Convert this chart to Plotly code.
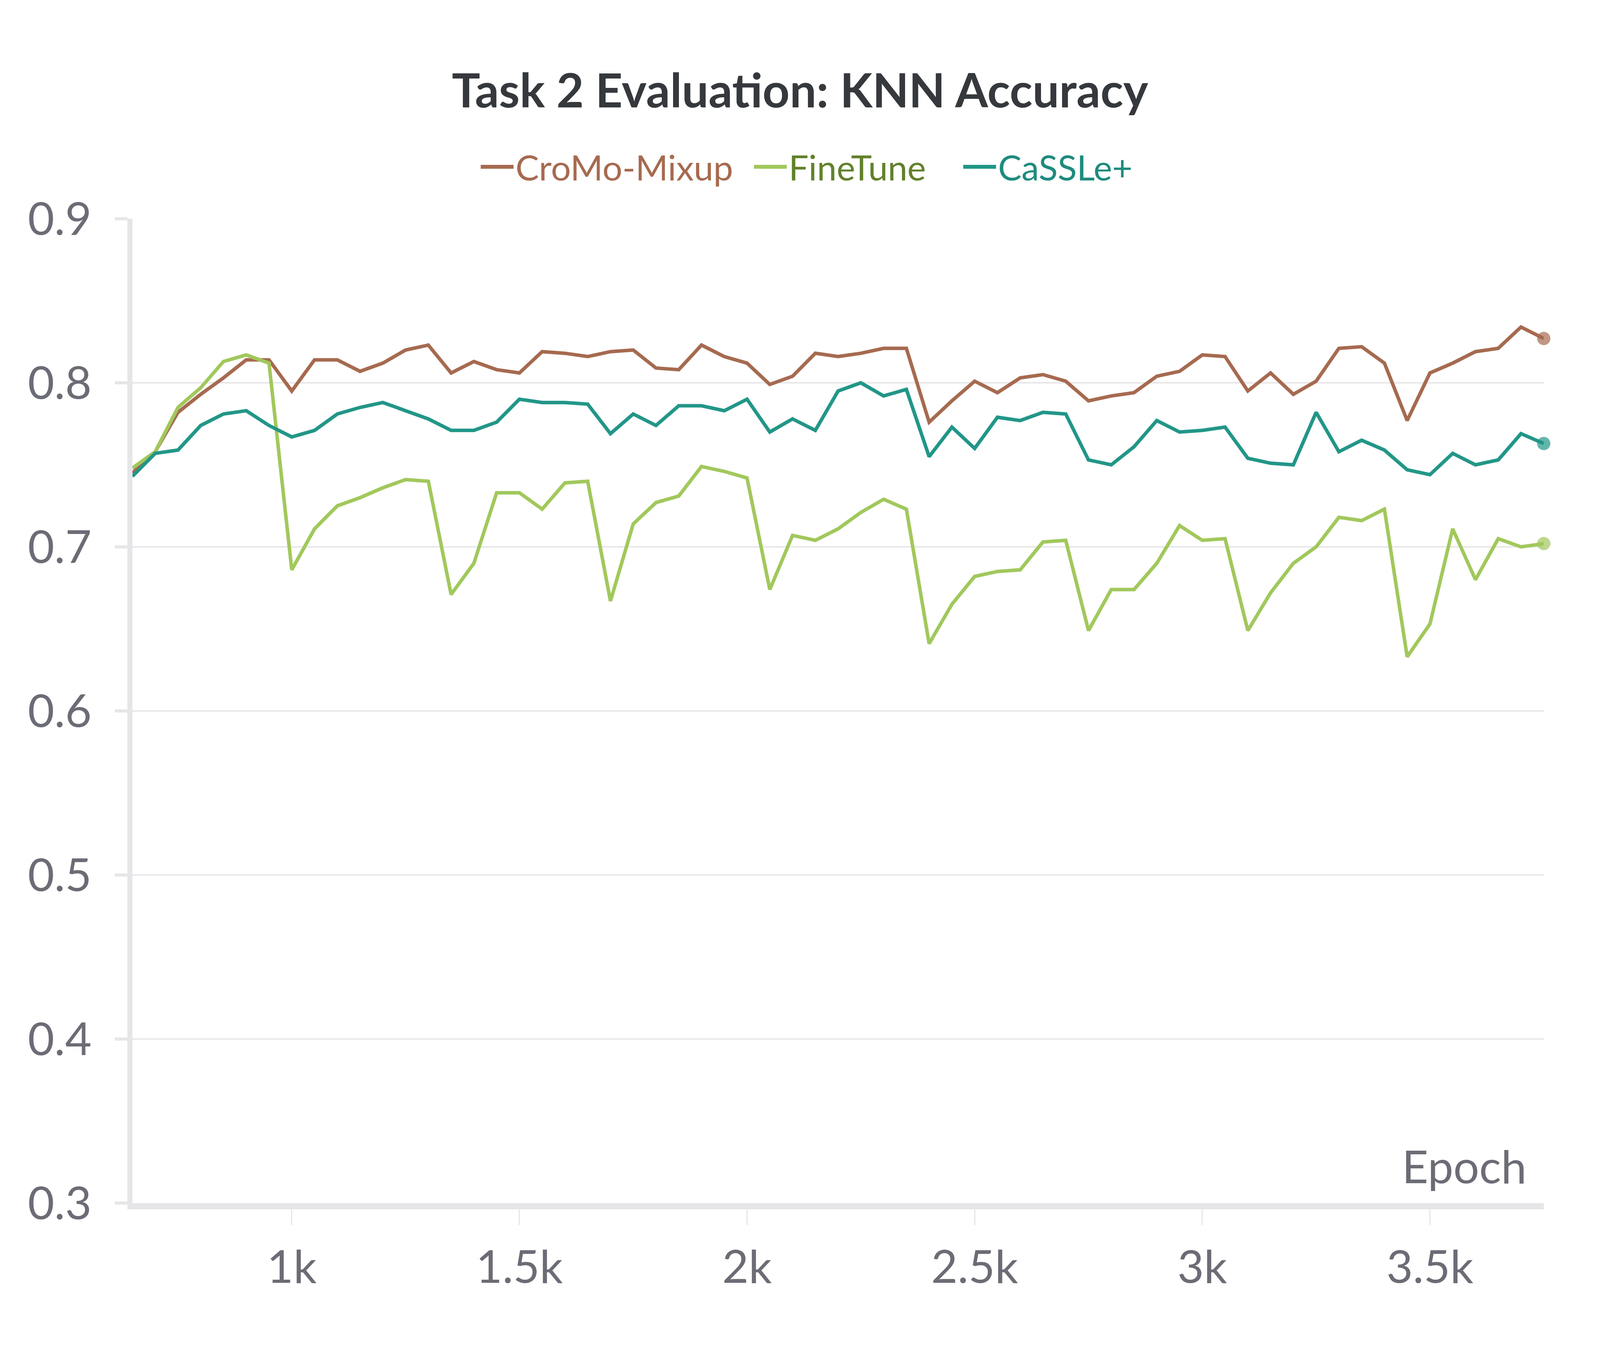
import plotly.graph_objects as go

epochs = [650, 700, 750, 800, 850, 900, 950, 1000, 1050, 1100, 1150, 1200, 1250, 1300,
          1350, 1400, 1450, 1500, 1550, 1600, 1650, 1700, 1750, 1800, 1850, 1900, 1950,
          2000, 2050, 2100, 2150, 2200, 2250, 2300, 2350, 2400, 2450, 2500, 2550, 2600,
          2650, 2700, 2750, 2800, 2850, 2900, 2950, 3000, 3050, 3100, 3150, 3200, 3250,
          3300, 3350, 3400, 3450, 3500, 3550, 3600, 3650, 3700, 3750]

cromo_mixup = [0.745, 0.758, 0.782, 0.793, 0.803, 0.814, 0.814, 0.795, 0.814, 0.814,
               0.807, 0.812, 0.820, 0.823, 0.806, 0.813, 0.808, 0.806, 0.819, 0.818,
               0.816, 0.819, 0.820, 0.809, 0.808, 0.823, 0.816, 0.812, 0.799, 0.804,
               0.818, 0.816, 0.818, 0.821, 0.821, 0.776, 0.789, 0.801, 0.794, 0.803,
               0.805, 0.801, 0.789, 0.792, 0.794, 0.804, 0.807, 0.817, 0.816, 0.795,
               0.806, 0.793, 0.801, 0.821, 0.822, 0.812, 0.777, 0.806, 0.812, 0.819,
               0.821, 0.834, 0.827]

finetune = [0.748, 0.758, 0.785, 0.797, 0.813, 0.817, 0.812, 0.686, 0.711, 0.725,
            0.730, 0.736, 0.741, 0.740, 0.671, 0.690, 0.733, 0.733, 0.723, 0.739,
            0.740, 0.667, 0.714, 0.727, 0.731, 0.749, 0.746, 0.742, 0.674, 0.707,
            0.704, 0.711, 0.721, 0.729, 0.723, 0.641, 0.665, 0.682, 0.685, 0.686,
            0.703, 0.704, 0.649, 0.674, 0.674, 0.690, 0.713, 0.704, 0.705, 0.649,
            0.672, 0.690, 0.700, 0.718, 0.716, 0.723, 0.633, 0.653, 0.711, 0.680,
            0.705, 0.700, 0.702]

cassle_plus = [0.743, 0.757, 0.759, 0.774, 0.781, 0.783, 0.774, 0.767, 0.771, 0.781,
               0.785, 0.788, 0.783, 0.778, 0.771, 0.771, 0.776, 0.790, 0.788, 0.788,
               0.787, 0.769, 0.781, 0.774, 0.786, 0.786, 0.783, 0.790, 0.770, 0.778,
               0.771, 0.795, 0.800, 0.792, 0.796, 0.755, 0.773, 0.760, 0.779, 0.777,
               0.782, 0.781, 0.753, 0.750, 0.761, 0.777, 0.770, 0.771, 0.773, 0.754,
               0.751, 0.750, 0.782, 0.758, 0.765, 0.759, 0.747, 0.744, 0.757, 0.750,
               0.753, 0.769, 0.763]

x_tick_vals = [1000, 1500, 2000, 2500, 3000, 3500]
x_tick_text = ["1k", "1.5k", "2k", "2.5k", "3k", "3.5k"]
y_tick_vals = [0.3, 0.4, 0.5, 0.6, 0.7, 0.8, 0.9]
y_tick_text = ["0.3", "0.4", "0.5", "0.6", "0.7", "0.8", "0.9"]

series_names = ["CroMo-Mixup", "FineTune", "CaSSLe+"]
series_values = [cromo_mixup, finetune, cassle_plus]
line_colors = ["#A66A50", "#A1C85C", "#229688"]
text_colors = ["#A66A50", "#62812B", "#1E8B7E"]

FONT = "Lato"
AXIS_COL = "#E6E6E9"
GRID_COL = "#E8E8EA"
TICK_COL = "#6B6C75"

FIG_W, FIG_H = 4080, 3440
M_L, M_R, M_T, M_B = 331, 136, 552, 368

fig = go.Figure()
legend_names = ["legend", "legend2", "legend3"]
for name, vals, col, txtcol, lg in zip(series_names, series_values, line_colors,
                                        text_colors, legend_names):
    n = len(vals)
    fig.add_trace(go.Scatter(
        x=epochs, y=vals, mode="lines+markers", name=name, showlegend=False,
        line=dict(color=col, width=9),
        marker=dict(size=[0] * (n - 1) + [34], color=col, line=dict(width=0)),
        cliponaxis=False, hoverinfo="x+y+name",
    ))
    # legend swatch entry (no data of its own)
    fig.add_trace(go.Scatter(
        x=[None], y=[None], mode="lines", legend=lg, showlegend=True,
        name=f"<span style='color:{txtcol}'>{name}</span>",
        line=dict(color=col, width=17),
    ))

xr = [epochs[0], epochs[-1]]
yr = [y_tick_vals[0], y_tick_vals[-1]]

legend_common = dict(orientation="h", xanchor="left", y=1.0528, yanchor="middle",
                     font=dict(family=FONT, size=90, color=TICK_COL),
                     itemwidth=84, bgcolor="rgba(0,0,0,0)", borderwidth=0)
legend_x = [0.2454, 0.4390, 0.5873]

fig.update_layout(
    width=FIG_W, height=FIG_H, autosize=False,
    margin=dict(l=M_L, r=M_R, t=M_T, b=M_B, pad=0),
    paper_bgcolor="white", plot_bgcolor="white",
    font=dict(family=FONT, color=TICK_COL, size=117),
    title=dict(text="<b>Task 2 Evaluation: KNN Accuracy</b>",
               x=0.5, xanchor="center", xref="container",
               y=1 - 225 / FIG_H, yanchor="middle", yref="container",
               font=dict(family=FONT, size=121, color="#35383C")),
    legend=dict(x=legend_x[0], **legend_common),
    legend2=dict(x=legend_x[1], **legend_common),
    legend3=dict(x=legend_x[2], **legend_common),
    xaxis=dict(range=xr, tickvals=x_tick_vals, ticktext=x_tick_text,
               showgrid=False, zeroline=False,
               showline=True, linecolor=AXIS_COL, linewidth=16,
               ticks="outside", ticklen=40, tickwidth=3, tickcolor=AXIS_COL,
               ticklabelstandoff=8,
               tickfont=dict(family=FONT, size=117, color=TICK_COL)),
    yaxis=dict(range=yr, tickvals=y_tick_vals, ticktext=y_tick_text,
               showgrid=True, gridcolor=GRID_COL, gridwidth=4, zeroline=False,
               showline=True, linecolor=AXIS_COL, linewidth=13,
               ticks="outside", ticklen=32, tickwidth=8, tickcolor=AXIS_COL,
               ticklabelstandoff=36,
               tickfont=dict(family=FONT, size=117, color=TICK_COL)),
    xaxis2=dict(overlaying="x", anchor="y", side="bottom", range=xr,
                tickvals=x_tick_vals, showticklabels=False, showgrid=False,
                zeroline=False, showline=False, ticks="inside", ticklen=40,
                tickwidth=3, tickcolor=AXIS_COL),
    yaxis2=dict(overlaying="y", anchor="x", side="left", range=yr,
                tickvals=y_tick_vals, showticklabels=False, showgrid=False,
                zeroline=False, showline=False, ticks="inside", ticklen=32,
                tickwidth=8, tickcolor=AXIS_COL),
    annotations=[dict(text="Epoch", xref="paper", yref="paper",
                      x=0.9884, xanchor="right", y=0.0381, yanchor="middle",
                      showarrow=False,
                      font=dict(family=FONT, size=117, color=TICK_COL))],
)

fig.write_html("out.html")
